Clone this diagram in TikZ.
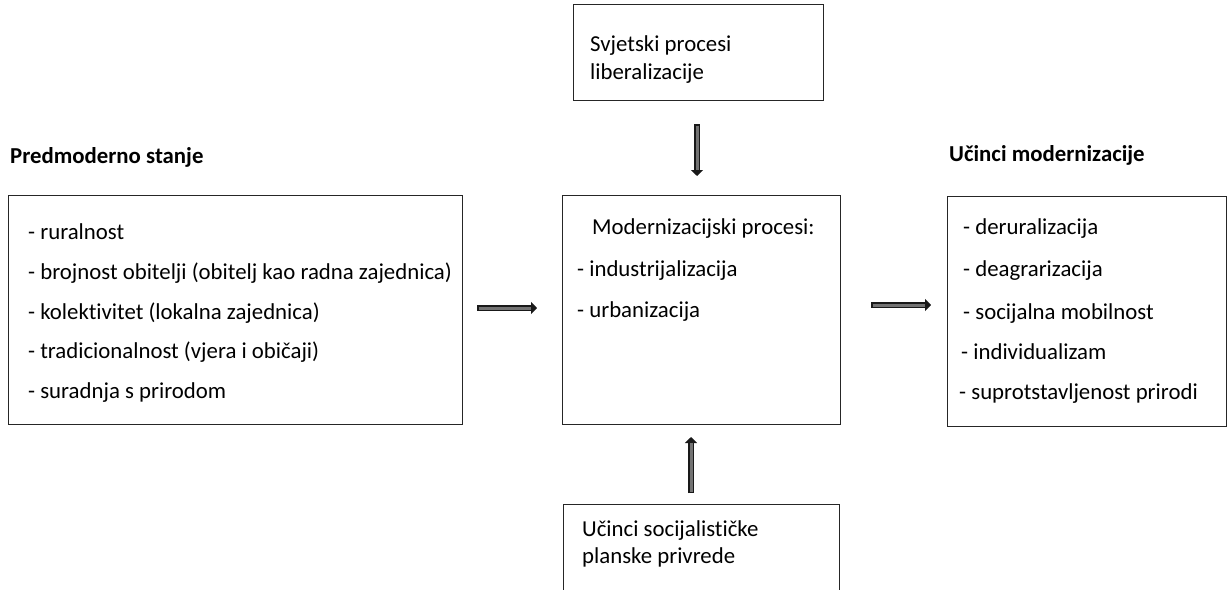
\documentclass[tikz,border=0pt]{standalone}
\usepackage{fontspec}
\setmainfont[Ligatures=NoCommon]{Carlito}
\usetikzlibrary{arrows.meta}
\tikzstyle{box} = [rectangle, draw=black!85, line width=1.2pt, inner sep=0pt, anchor=north west]
\tikzstyle{item} = [inner sep=0pt, anchor=base west, font=\fontsize{22.8}{27}\selectfont]
\tikzstyle{title} = [item, font=\fontsize{22.8}{27}\selectfont\bfseries]
\tikzstyle{dblarrow} = [draw=black!90, line width=6pt, -{Triangle[length=6pt,width=12pt]},
postaction={draw=black!55, line width=3pt, -{}, shorten >=6pt, shorten <=1.5pt}]

\begin{document}
\begin{tikzpicture}[x=1pt,y=-1pt]
\useasboundingbox (0,0) rectangle (1228,589);
% the five boxes
\node (pre) [box, minimum width=454pt, minimum height=229pt] at (8,195) {};
\node (mod) [box, minimum width=278pt, minimum height=229pt] at (562,195) {};
\node (ucinci) [box, minimum width=279pt, minimum height=230pt] at (947,196) {};
\node (svjet) [box, minimum width=250pt, minimum height=96pt] at (573,4) {};
\node (social) [box, minimum width=276pt, minimum height=120pt] at (563,504) {};
% titles
\node (preTitle) [title] at (10,163) {Predmoderno stanje};
\node (ucTitle) [title] at (949,161) {Učinci modernizacije};
% left box
\node (pre1) [item] at (28,239) {- ruralnost};
\node (pre2) [item] at (28,279) {- brojnost obitelji (obitelj kao radna zajednica)};
\node (pre3) [item] at (28,319) {- kolektivitet (lokalna zajednica)};
\node (pre4) [item] at (28,358) {- tradicionalnost (vjera i običaji)};
\node (pre5) [item] at (28,398) {- suradnja s prirodom};
% middle box
\node (mod1) [item] at (592,234) {Modernizacijski procesi:};
\node (mod2) [item] at (577,276) {- industrijalizacija};
\node (mod3) [item] at (577,317) {- urbanizacija};
% right box
\node (uc1) [item] at (963,234) {- deruralizacija};
\node (uc2) [item] at (963,276) {- deagrarizacija};
\node (uc3) [item] at (963,319) {- socijalna mobilnost};
\node (uc4) [item] at (961,359) {- individualizam};
\node (uc5) [item] at (959,399) {- suprotstavljenost prirodi};
% top and bottom boxes
\node (svjet1) [item] at (590,51) {Svjetski procesi};
\node (svjet2) [item] at (590,79) {liberalizacije};
\node (social1) [item] at (582,536) {Učinci socijalističke};
\node (social2) [item] at (582,563) {planske privrede};
% arrows
\coordinate (a1) at (477,308);
\coordinate (a2) at (537,308);
\coordinate (b1) at (871,305);
\coordinate (b2) at (931,305);
\coordinate (c1) at (697,124);
\coordinate (c2) at (697,176);
\coordinate (d1) at (691,493);
\coordinate (d2) at (691,437);
\draw [dblarrow] (a1) -- (a2);
\draw [dblarrow] (b1) -- (b2);
\draw [dblarrow, line width=5.5pt] (c1) -- (c2);
\draw [dblarrow, line width=5.5pt] (d1) -- (d2);
\end{tikzpicture}
\end{document}
